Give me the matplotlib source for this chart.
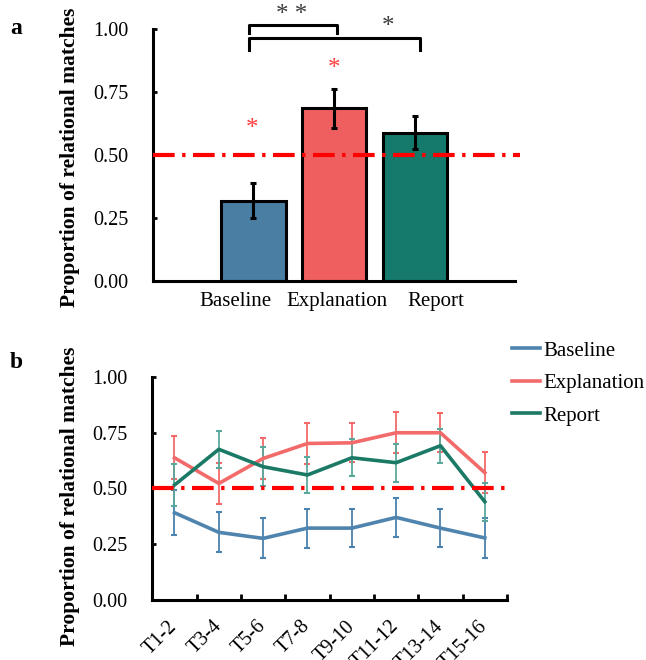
import numpy as np
import matplotlib.pyplot as plt
from matplotlib.transforms import ScaledTranslation

plt.rcParams['font.family'] = ['Liberation Serif', 'DejaVu Serif']
plt.rcParams['lines.scale_dashes'] = False

# panel a: overall proportion of relational matches
conditions = ['Baseline', 'Explanation', 'Report']
overall_mean = [0.319, 0.686, 0.589]
overall_err = [0.070, 0.078, 0.065]
bar_colors = ['#4a7ea3', '#f05f5f', '#157a6b']

# panel b: by trial block
blocks = ['T1-2', 'T3-4', 'T5-6', 'T7-8', 'T9-10', 'T11-12', 'T13-14', 'T15-16']
baseline = [0.391, 0.303, 0.276, 0.322, 0.322, 0.370, 0.322, 0.278]
baseline_err = [0.100, 0.090, 0.090, 0.087, 0.086, 0.088, 0.085, 0.088]
explanation = [0.637, 0.522, 0.634, 0.701, 0.704, 0.749, 0.749, 0.570]
explanation_err = [0.097, 0.093, 0.093, 0.090, 0.088, 0.092, 0.087, 0.091]
report = [0.515, 0.675, 0.597, 0.560, 0.637, 0.615, 0.691, 0.440]
report_err = [0.094, 0.083, 0.088, 0.081, 0.082, 0.085, 0.077, 0.085]

chance = 0.5
chance_ls = (0, (15.6, 5.4, 2.4, 5.4))
yticks = [0.0, 0.25, 0.5, 0.75, 1.0]

fig = plt.figure(figsize=(6.46, 6.60), dpi=100)


def style_axis(ax):
    ax.spines['top'].set_visible(False)
    ax.spines['right'].set_visible(False)
    for s in ['left', 'bottom']:
        ax.spines[s].set_linewidth(2.2)
    ax.set_ylim(0, 1)
    ax.set_yticks(yticks)
    ax.set_yticklabels([f'{v:.2f}' for v in yticks])
    ax.tick_params(axis='y', direction='in', length=3, width=2, pad=18, labelsize=14.5)
    ax.set_ylabel('Proportion of relational matches', fontsize=15.5, fontweight='bold')


# ---- panel a ----
ax1 = fig.add_axes([0.2373, 0.5742, 0.560, 0.3814])
x = np.arange(len(conditions))
ax1.bar(x, overall_mean, width=0.8, color=bar_colors, edgecolor='black', linewidth=2.2, zorder=2)
ax1.errorbar(x, overall_mean, yerr=overall_err, fmt='none', ecolor='black',
             elinewidth=2.2, capsize=2, capthick=2.2, zorder=3)
ax1.axhline(chance, xmax=1.015, color='red', lw=3, ls=chance_ls, clip_on=False, zorder=4)
ax1.set_xlim(-1.24, 3.24)
ax1.set_xticks(x)
ax1.set_xticklabels(conditions, fontsize=15)
ax1.tick_params(axis='x', length=0, pad=8)
# the category labels sit a little off-centre in the original
for lab, dx in zip(ax1.get_xticklabels(), [-13, 2, 15]):
    lab.set_transform(lab.get_transform() + ScaledTranslation(dx / 72, 0, fig.dpi_scale_trans))
style_axis(ax1)
ax1.yaxis.set_label_coords(-0.203, 0.49)

# significance brackets
ax1.plot([-0.05, -0.05, 1.03, 1.03], [0.984, 1.017, 1.017, 0.984], color='black', lw=2.2, clip_on=False)
ax1.plot([-0.055, -0.055, 2.06, 2.06], [0.918, 0.964, 0.964, 0.918], color='black', lw=2.2, clip_on=False)
ax1.text(0.47, 1.058, '* *', ha='center', va='center', fontsize=18, color='#3a3a3a', clip_on=False)
ax1.text(1.67, 1.008, '*', ha='center', va='center', fontsize=18, color='#3a3a3a', clip_on=False)
ax1.text(-0.02, 0.603, '*', ha='center', va='center', fontsize=18, color='#ff3b3b')
ax1.text(1.0, 0.843, '*', ha='center', va='center', fontsize=18, color='#ff3b3b')

fig.text(16 / 646, 1 - 28 / 660, 'a', fontsize=17, fontweight='bold', ha='center', va='center')

# ---- panel b ----
ax2 = fig.add_axes([0.2358, 0.0909, 0.549, 0.3383])
xb = np.arange(len(blocks))
series = [
    ('Baseline', baseline, baseline_err, '#4f84ae', '#4a82b0'),
    ('Explanation', explanation, explanation_err, '#f26a6a', '#f26a6a'),
    ('Report', report, report_err, '#1a7a66', '#5aa89c'),
]
for name, vals, err, lc, ec in series:
    ax2.errorbar(xb, vals, yerr=err, fmt='none', ecolor=ec, elinewidth=1.3,
                 capsize=2, capthick=1.5, zorder=2)
for name, vals, err, lc, ec in series:
    ax2.plot(xb, vals, color=lc, lw=2.6, label=name, zorder=3)
ax2.axhline(chance, color='red', lw=3, ls=chance_ls, zorder=4)
ax2.set_xlim(-0.5, len(blocks) - 0.5)
ax2.set_xticks(xb)
ax2.set_xticks(np.arange(0.5, len(blocks)), minor=True)
ax2.set_xticklabels(blocks, fontsize=14.5, rotation=45, ha='right', rotation_mode='anchor', va='center')
ax2.tick_params(axis='x', which='major', length=0, pad=17)
ax2.tick_params(axis='x', which='minor', direction='in', length=4, width=2)
style_axis(ax2)
ax2.yaxis.set_label_coords(-0.204, 0.465)

ax2.legend(loc='upper left', bbox_to_anchor=(511.7 / 646, 1 - 341 / 660), bbox_transform=fig.transFigure,
           frameon=False, fontsize=15, handlelength=1.35, handletextpad=0.15,
           borderpad=0, borderaxespad=0, labelspacing=0.62)

fig.text(16 / 646, 1 - 362 / 660, 'b', fontsize=17, fontweight='bold', ha='center', va='center')

fig.savefig('out.png', dpi=100)
